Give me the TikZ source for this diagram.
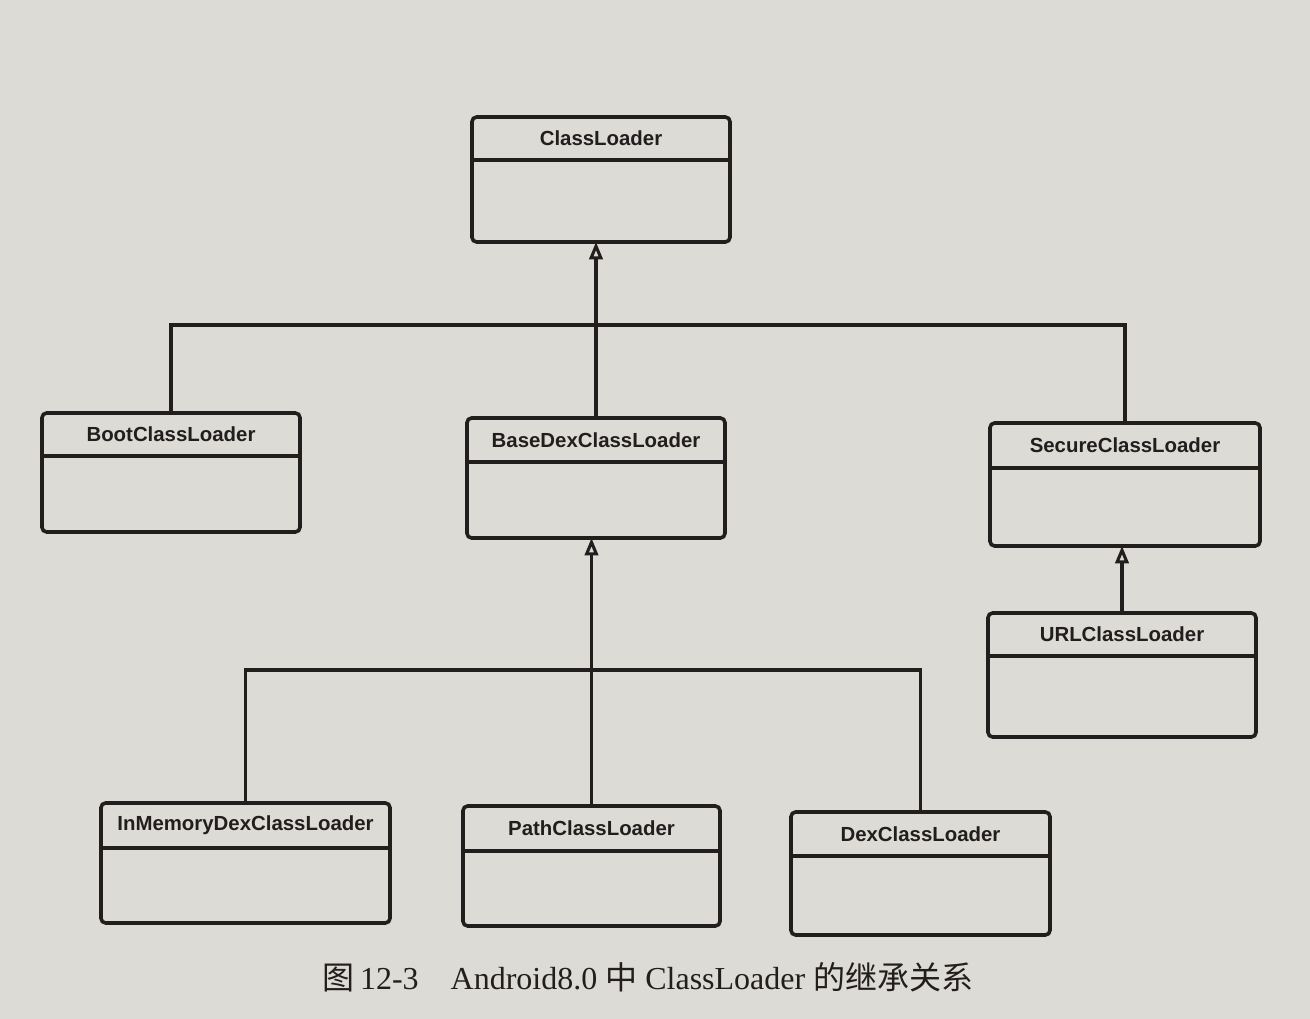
\documentclass[tikz,border=0pt]{standalone}
\usepackage{fontspec}
\setmainfont{Liberation Serif}
\newfontfamily\clsfont{Liberation Sans}
\newfontfamily\cjk{Noto Sans CJK SC}
\usetikzlibrary{arrows.meta,calc}
\definecolor{paper}{RGB}{220,219,214}
\definecolor{ink}{RGB}{34,30,30}
\tikzset{
  clsbox/.style={draw=ink, line width=2.7pt, rounded corners=3.5pt, inner sep=0pt, outer sep=0pt},
  clsline/.style={draw=ink, line width=2.7pt},
  clstitle/.style={font=\clsfont\bfseries\fontsize{15.3}{17}\selectfont, text=ink, inner sep=0pt},
  conn/.style={draw=ink, line width=2.5pt},
  inh/.style={conn, -{Triangle[open, length=13pt, width=10pt, line width=2.3pt]}},
}
\newcommand{\umlbox}[7]{%
  \node[clsbox, minimum width=#4*0.75pt, minimum height=#5*0.75pt, anchor=north west] (#1) at (#2,#3) {};
  \node[clstitle] (#1t) at ($(#1.north)+(0,#6/2)$) {#7};
  \draw[clsline] ($(#1.north west)+(0,#6)$) -- ($(#1.north east)+(0,#6)$);
}
\begin{document}
\begin{tikzpicture}[x=0.75pt,y=-0.75pt]
  \fill[paper] (0,0) rectangle (1310,1019);
  \useasboundingbox (0,0) rectangle (1310,1019);

  \umlbox{cl}{472}{117}{258}{125}{43}{ClassLoader}
  \umlbox{boot}{42}{413}{258}{119}{43}{BootClassLoader}
  \umlbox{base}{467}{418}{258}{120}{44}{BaseDexClassLoader}
  \umlbox{secure}{990}{423}{270}{123}{45}{SecureClassLoader}
  \umlbox{url}{988}{613}{268}{124}{43}{URLClassLoader}
  \umlbox{inmem}{101}{803}{289}{120}{45}{InMemoryDexClassLoader}
  \umlbox{path}{463}{806}{257}{120}{45}{PathClassLoader}
  \umlbox{dex}{791}{812}{259}{123}{44}{DexClassLoader}

  \coordinate (bus1) at (0,325);
  \coordinate (bus2) at (0,670);

  % ClassLoader subclasses
  \draw[inh] (base.north) -- (base.north |- cl.south);
  \draw[conn] (boot.north) -- (boot.north |- bus1) -- (secure.north |- bus1) -- (secure.north);

  % BaseDexClassLoader subclasses
  \draw[inh] (path.north) -- (path.north |- base.south);
  \draw[conn] (inmem.north) -- (inmem.north |- bus2) -- (dex.north |- bus2) -- (dex.north);

  % SecureClassLoader subclass
  \draw[inh] (url.north) -- (url.north |- secure.south);

  \node[font=\fontsize{24}{28}\selectfont, text=ink, inner sep=0pt] (cap) at (648,977)
    {{\cjk 图}\,12-3\quad Android8.0 {\cjk 中} ClassLoader {\cjk 的继承关系}};
\end{tikzpicture}
\end{document}
